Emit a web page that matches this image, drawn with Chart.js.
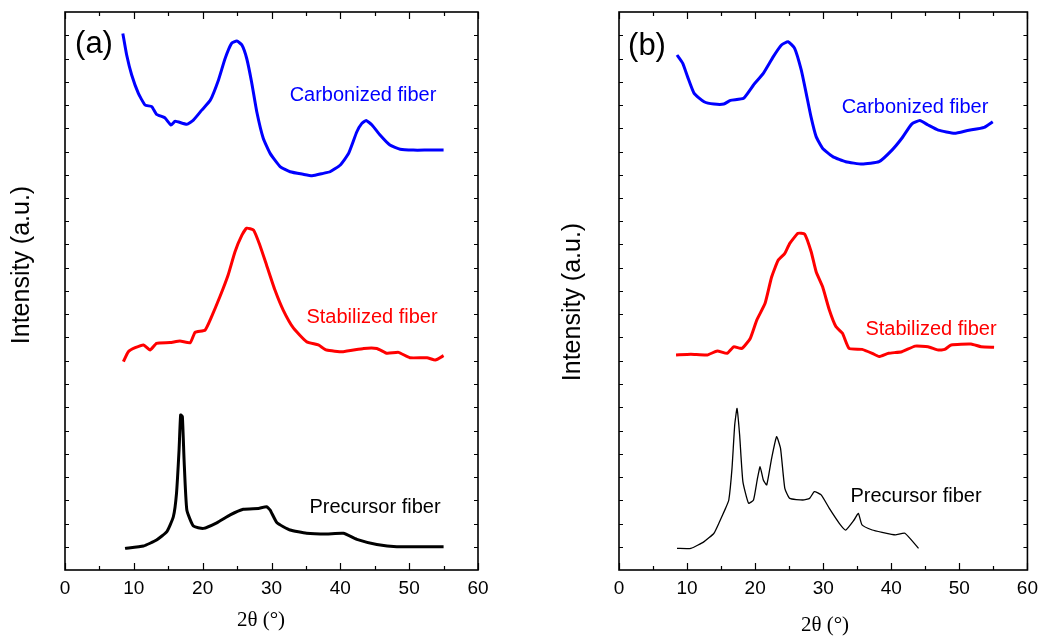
<!DOCTYPE html>
<html>
<head>
<meta charset="utf-8">
<script src="https://cdn.jsdelivr.net/npm/chart.js@4/dist/chart.umd.min.js"></script>
<style>
  body { margin: 0; background: #fff; }
  #wrap { position: relative; width: 1045px; height: 638px; }
  canvas { position: absolute; top: 0; }
</style>
</head>
<body>
<div id="wrap">
  <canvas id="chartA" width="520" height="638" style="left:0px"></canvas>
  <canvas id="chartB" width="520" height="638" style="left:525px"></canvas>
</div>
<script>
// ---- panel (a) ----
const carbA_x = [8.4, 8.96, 9.69, 10.66, 11.63, 12.6, 13.3, 14.5, 15.4, 16.0, 17.7, 18.65, 19.87, 21.1, 22.3, 23.26, 24.2, 24.96, 25.7, 26.4, 27.1, 27.86, 28.8, 29.8, 31.25, 32.7, 34.6, 35.9, 37.5, 38.5, 40.0, 41.2, 42.4, 43.1, 43.75, 44.6, 45.8, 47.2, 48.7, 50.6, 52.6, 55.0];
const carbA_y = [23.08, 22.15, 21.29, 20.5, 20.0, 19.93, 19.6, 19.45, 19.14, 19.3, 19.17, 19.35, 19.78, 20.2, 21.08, 22.0, 22.65, 22.75, 22.58, 22.0, 21.0, 19.71, 18.57, 17.92, 17.35, 17.13, 17.02, 16.96, 17.06, 17.13, 17.42, 17.92, 18.85, 19.2, 19.33, 19.14, 18.7, 18.28, 18.1, 18.06, 18.06, 18.06];

const stabA_x = [8.48, 9.2, 10.2, 11.4, 12.35, 13.3, 15.26, 16.7, 18.2, 18.9, 20.35, 21.3, 22.5, 23.7, 24.7, 25.7, 26.4, 27.4, 28.3, 29.3, 30.5, 31.7, 33.2, 35.1, 36.8, 38.0, 40.4, 43.4, 45.3, 46.8, 48.45, 50.1, 52.6, 53.8, 55.0];
const stabA_y = [8.96, 9.39, 9.56, 9.68, 9.46, 9.75, 9.78, 9.85, 9.78, 10.22, 10.32, 10.9, 11.75, 12.69, 13.69, 14.4, 14.7, 14.62, 13.98, 13.1, 12.04, 11.18, 10.4, 9.82, 9.68, 9.46, 9.39, 9.53, 9.53, 9.32, 9.36, 9.13, 9.13, 9.03, 9.22];

const precA_x = [8.72, 11.4, 13.3, 14.8, 15.74, 16.2, 16.57, 16.8, 17.05, 17.3, 17.7, 18.65, 20.1, 22.05, 24.0, 25.9, 28.1, 29.3, 29.8, 30.8, 32.7, 35.1, 38.0, 40.45, 42.4, 45.3, 48.2, 55.0];
const precA_y = [0.93, 1.03, 1.29, 1.65, 2.29, 3.3, 5.16, 6.67, 6.6, 4.73, 2.58, 1.89, 1.79, 2.03, 2.37, 2.61, 2.65, 2.72, 2.58, 2.03, 1.72, 1.58, 1.55, 1.58, 1.32, 1.1, 1.0, 1.0];

// ---- panel (b) ----
const carbB_x = [8.52, 9.35, 10.07, 11.04, 12.5, 13.95, 15.4, 16.37, 18.3, 19.76, 21.2, 22.67, 23.87, 24.84, 25.8, 26.78, 27.5, 28.2, 28.96, 29.9, 31.4, 33.3, 35.7, 38.2, 40.1, 41.55, 43.0, 44.2, 45.4, 46.9, 49.3, 51.2, 53.65, 54.9];
const carbB_y = [22.15, 21.8, 21.22, 20.5, 20.14, 20.04, 20.04, 20.2, 20.29, 20.86, 21.36, 22.08, 22.58, 22.72, 22.44, 21.5, 20.5, 19.5, 18.64, 18.14, 17.78, 17.56, 17.46, 17.56, 18.06, 18.57, 19.18, 19.33, 19.14, 18.92, 18.78, 18.9, 19.04, 19.28];

const stabB_x = [8.38, 10.56, 12.98, 14.43, 15.88, 16.85, 18.06, 19.28, 20.24, 21.46, 22.42, 23.4, 24.36, 25.09, 26.3, 27.27, 28.23, 28.96, 29.9, 30.9, 31.86, 32.83, 33.8, 35.7, 37.2, 38.2, 39.6, 41.55, 43.5, 45.4, 46.9, 47.85, 48.8, 51.7, 53.2, 55.1];
const stabB_y = [9.25, 9.28, 9.25, 9.42, 9.32, 9.6, 9.53, 9.96, 10.75, 11.47, 12.6, 13.33, 13.62, 14.05, 14.48, 14.45, 13.69, 12.83, 12.19, 11.18, 10.47, 10.18, 9.53, 9.49, 9.32, 9.18, 9.32, 9.39, 9.63, 9.6, 9.46, 9.49, 9.68, 9.72, 9.6, 9.58];

const precB_x = [8.52, 10.56, 12.5, 13.95, 14.67, 15.65, 16.13, 16.6, 17.0, 17.34, 17.72, 18.2, 19.03, 19.76, 20.34, 20.73, 21.2, 21.7, 22.42, 23.15, 23.73, 24.36, 25.09, 27.0, 28.0, 28.7, 29.7, 30.9, 32.36, 33.3, 34.53, 35.16, 35.7, 37.2, 38.65, 40.6, 42.0, 44.0];
const precB_y = [0.93, 0.93, 1.22, 1.58, 2.01, 2.65, 3.01, 4.37, 6.24, 6.95, 5.81, 3.8, 2.87, 3.01, 3.94, 4.44, 3.87, 3.66, 4.8, 5.73, 5.23, 3.51, 3.08, 3.01, 3.08, 3.37, 3.23, 2.65, 2.01, 1.72, 2.15, 2.44, 1.94, 1.72, 1.62, 1.51, 1.58, 0.93];

const seriesNames = ["Carbonized fiber", "Stabilized fiber", "Precursor fiber"];
const seriesColors = ["#0000ff", "#ff0000", "#000000"];

const SANS = "'Liberation Sans', Arial, sans-serif";
const SERIF = "'Liberation Serif', 'Times New Roman', serif";

function pts(xs, ys) {
  return xs.map((x, i) => ({ x: x, y: ys[i] }));
}

// frame, inward ticks and the text labels
const framePlugin = {
  id: "frame",
  afterDraw(chart, args, o) {
    const { ctx, chartArea: a, scales } = chart;
    ctx.save();
    ctx.strokeStyle = "#000";
    ctx.lineWidth = 1.6;
    ctx.strokeRect(a.left, a.top, a.right - a.left, a.bottom - a.top);

    ctx.lineWidth = 1.2;
    ctx.beginPath();
    for (let v = 0; v <= 60; v += 5) {
      const px = Math.round(scales.x.getPixelForValue(v)) + 0.5;
      const len = v % 10 === 0 ? 7 : 4;
      ctx.moveTo(px, a.bottom); ctx.lineTo(px, a.bottom - len);
      ctx.moveTo(px, a.top); ctx.lineTo(px, a.top + len);
    }
    for (let v = 1; v < 24; v++) {
      const py = Math.round(scales.y.getPixelForValue(v)) + 0.5;
      ctx.moveTo(a.left, py); ctx.lineTo(a.left + 4, py);
      ctx.moveTo(a.right, py); ctx.lineTo(a.right - 4, py);
    }
    ctx.stroke();

    // panel letter
    ctx.fillStyle = "#000";
    ctx.textAlign = "center";
    ctx.textBaseline = "middle";
    ctx.font = "31px " + SANS;
    ctx.fillText(o.panel, o.panelPos[0], o.panelPos[1]);

    // curve names
    ctx.textBaseline = "alphabetic";
    ctx.font = "20px " + SANS;
    o.notes.forEach((n, i) => {
      ctx.fillStyle = seriesColors[i];
      ctx.fillText(seriesNames[i], n[0], n[1]);
    });

    // axis titles
    ctx.fillStyle = "#000";
    ctx.textBaseline = "middle";
    ctx.font = "21px " + SERIF;
    ctx.fillText("2\u03b8 (\u00b0)", o.xTitle[0], o.xTitle[1]);

    ctx.save();
    ctx.translate(o.yTitle[0], o.yTitle[1]);
    ctx.rotate(-Math.PI / 2);
    ctx.font = "25px " + SANS;
    ctx.fillText("Intensity (a.u.)", 0, 0);
    ctx.restore();

    ctx.restore();
  }
};

function makeChart(id, sets, widths, axisWidth, padRight, frameOpts) {
  return new Chart(document.getElementById(id), {
    type: "line",
    data: {
      datasets: sets.map((s, i) => ({
        label: seriesNames[i],
        data: s,
        borderColor: seriesColors[i],
        borderWidth: widths[i],
        pointRadius: 0,
        tension: 0.15,
        fill: false
      }))
    },
    options: {
      responsive: false,
      animation: false,
      layout: { padding: { top: 12, right: padRight, left: 0, bottom: 0 } },
      plugins: {
        legend: { display: false },
        tooltip: { enabled: false },
        frame: frameOpts
      },
      scales: {
        x: {
          type: "linear",
          min: 0,
          max: 60,
          grid: { display: false, drawTicks: false },
          border: { display: false },
          ticks: {
            stepSize: 10,
            padding: 7,
            color: "#000",
            maxRotation: 0,
            font: { family: SANS, size: 19 }
          },
          afterFit: s => { s.height = 68; }
        },
        y: {
          min: 0,
          max: 24,
          grid: { display: false, drawTicks: false },
          border: { display: false },
          ticks: { display: false, stepSize: 1 },
          afterFit: s => { s.width = axisWidth; }
        }
      }
    },
    plugins: [framePlugin]
  });
}

makeChart("chartA",
  [pts(carbA_x, carbA_y), pts(stabA_x, stabA_y), pts(precA_x, precA_y)],
  [3, 3, 3], 65, 42,
  {
    panel: "(a)", panelPos: [94, 44],
    notes: [[363, 101], [372, 323], [375, 513]],
    xTitle: [261, 620],
    yTitle: [22, 265]
  });

makeChart("chartB",
  [pts(carbB_x, carbB_y), pts(stabB_x, stabB_y), pts(precB_x, precB_y)],
  [3, 3, 1.3], 94, 13,
  {
    panel: "(b)", panelPos: [122, 46],
    notes: [[390, 113], [406, 335], [391, 502]],
    xTitle: [300, 625],
    yTitle: [48, 302]
  });
</script>
</body>
</html>
